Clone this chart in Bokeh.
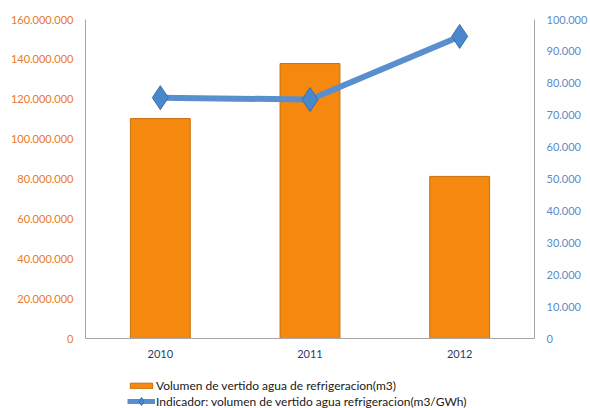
from bokeh.plotting import figure
from bokeh.layouts import column
from bokeh.models import (ColumnDataSource, FactorRange, Range1d, LinearAxis, FixedTicker,
                          Legend, LegendItem)
from bokeh.embed import file_html
from bokeh.resources import INLINE

years = ["2010", "2011", "2012"]
volumen = [110300000, 137900000, 81300000]
indicador = [75500, 74900, 94700]
left_ticks = [0, 20000000, 40000000, 60000000, 80000000, 100000000, 120000000, 140000000, 160000000]
left_labels = ["0", "20.000.000", "40.000.000", "60.000.000", "80.000.000", "100.000.000",
               "120.000.000", "140.000.000", "160.000.000"]
right_ticks = [0, 10000, 20000, 30000, 40000, 50000, 60000, 70000, 80000, 90000, 100000]
right_labels = ["0", "10.000", "20.000", "30.000", "40.000", "50.000", "60.000", "70.000",
                "80.000", "90.000", "100.000"]
bar_name = "Volumen de vertido agua de refrigeracion(m3)"
line_name = "Indicador: volumen de vertido agua refrigeracion(m3/GWh)"

FONT = "Lato"
BAR_FILL, BAR_LINE = "#F5880E", "#C8700A"
LINE_COL, MK_FILL, MK_LINE = "#5A8FCF", "#4A88CC", "#3D6FA8"
src = ColumnDataSource(dict(x=years, v=volumen, ind=indicador))

p = figure(x_range=FactorRange(*years, range_padding=0), y_range=Range1d(0, 160000000),
           width=590, height=372, output_backend="svg", toolbar_location=None,
           min_border_left=85, min_border_right=52, min_border_top=19, min_border_bottom=34)
p.extra_y_ranges = {"r": Range1d(0, 100000)}
p.outline_line_color = None
p.xgrid.visible = False
p.ygrid.visible = False

p.vbar(x="x", top="v", width=0.4, source=src, fill_color=BAR_FILL,
       line_color=BAR_LINE, line_width=1)
p.line(x="x", y="ind", source=src, y_range_name="r", line_color=LINE_COL, line_width=6)
p.scatter(x="x", y="ind", source=src, y_range_name="r", marker="diamond", size=24,
          fill_color=MK_FILL, line_color=MK_LINE, line_width=1)

def style_axis(ax, color):
    ax.major_label_text_color = color
    ax.major_label_text_font = FONT
    ax.major_label_text_font_size = "11px"
    ax.major_tick_line_color = None
    ax.minor_tick_line_color = None
    ax.major_tick_out = 0
    ax.major_tick_in = 0
    ax.minor_tick_out = 0
    ax.minor_tick_in = 0
    ax.axis_line_color = "#A6A6A6"

ya = p.yaxis[0]
ya.ticker = FixedTicker(ticks=left_ticks)
ya.major_label_overrides = {t: l for t, l in zip(left_ticks, left_labels)}
style_axis(ya, "#E8782A")
ya.major_label_standoff = 12

ra = LinearAxis(y_range_name="r", ticker=FixedTicker(ticks=right_ticks))
ra.major_label_overrides = {t: l for t, l in zip(right_ticks, right_labels)}
style_axis(ra, "#5B8BC9")
ra.major_label_standoff = 12
p.add_layout(ra, "right")

xa = p.xaxis[0]
style_axis(xa, "#1F3E6B")
xa.major_label_standoff = 11

# legend strip below the chart (legend-only glyphs with no visible data)
lg = figure(width=590, height=36, output_backend="svg", toolbar_location=None,
            x_range=Range1d(0, 1), y_range=Range1d(0, 1),
            x_axis_type=None, y_axis_type=None,
            min_border_left=85, min_border_right=52, min_border_top=0, min_border_bottom=0)
lg.grid.visible = False
lg.outline_line_color = None
nan = float("nan")
dummy = ColumnDataSource(dict(x=[nan], y=[nan], top=[nan]))
lb = lg.vbar(x="x", top="top", width=0.1, source=dummy, fill_color=BAR_FILL,
             line_color=BAR_LINE, line_width=1)
ll = lg.line(x="x", y="y", source=dummy, line_color=LINE_COL, line_width=5)
lm = lg.scatter(x="x", y="y", source=dummy, marker="diamond", fill_color=MK_FILL,
                line_color=MK_LINE, line_width=1)

common = dict(orientation="vertical", padding=0, margin=0, spacing=0,
              border_line_color=None, background_fill_alpha=0,
              label_text_font=FONT, label_text_font_size="12px", label_text_color="#202020",
              glyph_width=28, label_standoff=1)
leg1 = Legend(items=[LegendItem(label=bar_name, renderers=[lb], index=0)],
              location=(42, 15), glyph_height=7, label_height=14, **common)
leg2 = Legend(items=[LegendItem(label=line_name, renderers=[ll, lm], index=0)],
              location=(42, -3), glyph_height=20, label_height=14, **common)
lg.add_layout(leg1, "center")
lg.add_layout(leg2, "center")

layout = column(p, lg, spacing=0)
open("out.html", "w").write(file_html(layout, INLINE))
